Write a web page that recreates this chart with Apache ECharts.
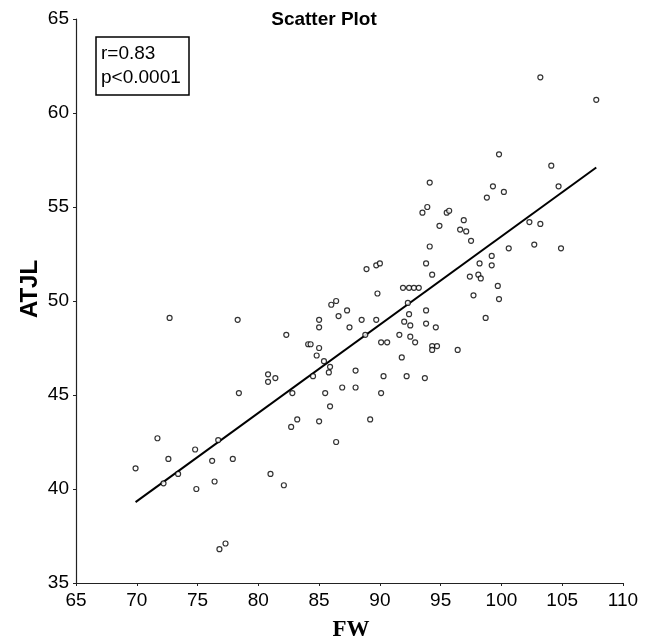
<!DOCTYPE html>
<html><head><meta charset="utf-8">
<script src="https://cdn.jsdelivr.net/npm/echarts@6/dist/echarts.min.js"></script>
<style>html,body{margin:0;padding:0;background:#fff}#c{width:648px;height:643px}</style>
</head><body><div id="c"></div>
<script>
const fw = [103.2,107.8,99.8,104.1,94.1,99.3,104.7,100.2,98.8,93.9,93.5,95.5,95.7,96.9,94.9,102.3,103.2,96.6,97.1,97.5,
94.1,100.6,102.7,104.9,99.2,93.8,98.2,99.2,88.9,89.7,90.0,94.3,97.4,98.1,98.3,99.7,91.9,92.4,92.8,93.2,
89.8,97.7,99.8,92.3,93.8,92.4,98.7,88.5,89.7,92.0,92.5,93.8,94.6,88.8,91.6,92.5,92.9,90.1,90.6,94.3,
94.3,94.7,96.4,91.8,90.3,92.2,93.7,90.1,89.2,72.7,78.3,86.0,86.4,87.3,86.6,85.0,85.0,87.5,82.3,84.1,
84.3,85.0,84.8,85.4,85.9,85.8,84.5,88.0,80.8,80.8,81.4,78.4,82.8,85.5,86.9,88.0,85.9,83.2,82.7,85.0,
86.4,71.7,76.7,74.8,72.6,77.9,76.2,69.9,73.4,81.0,72.2,76.4,74.9,82.1,77.3,76.8];
const atjl = [61.9,60.7,57.8,57.2,56.3,56.1,56.1,55.8,55.5,55.0,54.7,54.7,54.8,54.3,54.0,54.2,54.1,53.8,53.7,53.2,
52.9,52.8,53.0,52.8,52.4,52.0,52.0,51.9,51.7,51.9,52.0,51.4,51.3,51.4,51.2,50.8,50.7,50.7,50.7,50.7,
50.4,50.3,50.1,49.9,49.5,49.3,49.1,49.0,49.0,48.9,48.7,48.8,48.6,48.2,48.2,48.1,47.8,47.8,47.8,47.6,
47.4,47.6,47.4,47.0,46.0,46.0,45.9,45.1,43.7,49.1,49.0,49.8,50.0,49.5,49.2,49.0,48.6,48.6,48.2,47.7,
47.7,47.5,47.1,46.8,46.5,46.2,46.0,46.3,46.1,45.7,45.9,45.1,45.1,45.1,45.4,45.4,44.4,43.7,43.3,43.6,
42.5,42.7,42.6,42.1,41.6,41.6,41.5,41.1,40.8,40.8,40.3,40.4,40.0,40.2,37.1,36.8];
const fitX = [69.9, 107.8];
const fitY = [39.3, 57.1];
const chartTitle = 'Scatter Plot';
const xName = 'FW';
const yName = 'ATJL';
const statLines = ['r=0.83', 'p<0.0001'];

const chart = echarts.init(document.getElementById('c'), null, {renderer: 'canvas'});
const pts = fw.map((x, i) => [x, atjl[i]]);
const fit = fitX.map((x, i) => [x, fitY[i]]);
const axisCol = '#222';
chart.setOption({
  animation: false,
  backgroundColor: '#fff',
  grid: {left: 76, right: 25, top: 19, bottom: 60},
  xAxis: {
    type: 'value', min: 65, max: 110, interval: 5,
    axisLine: {show: true, lineStyle: {color: axisCol, width: 1.2}},
    axisTick: {show: true, length: 3, lineStyle: {color: axisCol}},
    splitLine: {show: false},
    axisLabel: {color: '#000', fontSize: 19, fontFamily: 'Liberation Sans', margin: 8}
  },
  yAxis: {
    type: 'value', min: 35, max: 65, interval: 5,
    axisLine: {show: true, lineStyle: {color: axisCol, width: 1.2}},
    axisTick: {show: true, length: 3, lineStyle: {color: axisCol}},
    splitLine: {show: false},
    axisLabel: {color: '#000', fontSize: 19, fontFamily: 'Liberation Sans', margin: 7}
  },
  series: [
    {type: 'scatter', data: pts, symbol: 'circle', symbolSize: 5,
     itemStyle: {color: '#fff', borderColor: '#000', borderWidth: 1.2}, z: 3},
    {type: 'line', data: fit, symbol: 'none', lineStyle: {color: '#000', width: 2}, z: 2}
  ],
  graphic: [
    {type: 'text', left: 'center', top: 10, x: 0, style: {text: chartTitle, font: 'bold 19px "Liberation Sans"', fill: '#000'}},
    {type: 'text', x: 351, y: 630, style: {text: xName, font: 'bold 23px "Liberation Serif"', fill: '#000', align: 'center', verticalAlign: 'middle'}},
    {type: 'text', x: 30, y: 289, rotation: Math.PI / 2, style: {text: yName, font: 'bold 24px "Liberation Sans"', fill: '#000', align: 'center', verticalAlign: 'middle'}},
    {type: 'rect', shape: {x: 96, y: 37, width: 93, height: 58}, style: {fill: '#fff', stroke: '#000', lineWidth: 1.5}},
    {type: 'text', x: 101, y: 54, style: {text: statLines[0], font: '19px "Liberation Sans"', fill: '#000', verticalAlign: 'middle'}},
    {type: 'text', x: 101, y: 78, style: {text: statLines[1], font: '19px "Liberation Sans"', fill: '#000', verticalAlign: 'middle'}}
  ]
});
</script></body></html>
